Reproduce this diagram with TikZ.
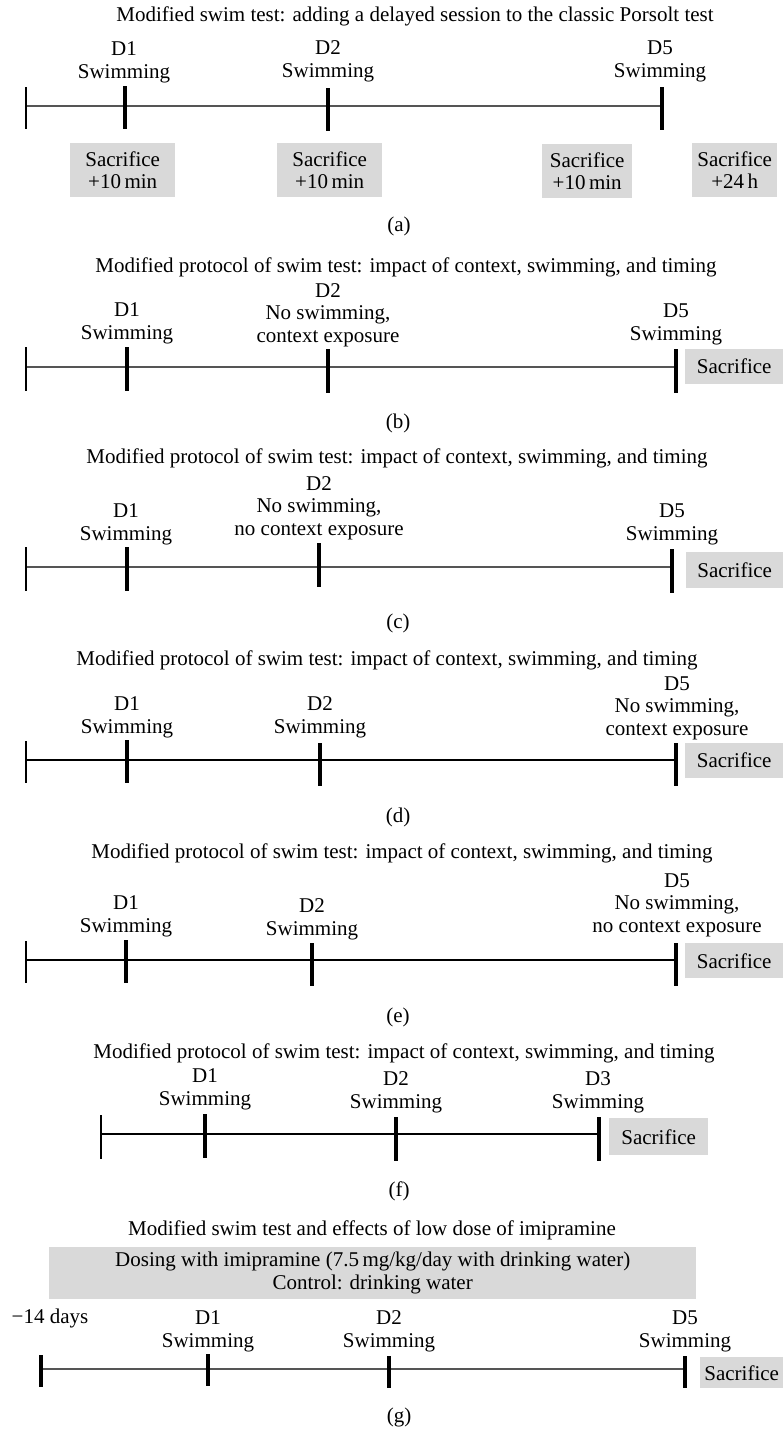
\documentclass[tikz,border=0pt]{standalone}
\usepackage{fontspec}
\setmainfont{Liberation Serif}
\usepackage{tikz}
\usepackage{xcolor}

\definecolor{boxgray}{RGB}{217,217,217}
\definecolor{axisgray}{RGB}{85,85,85}

\tikzset{
  daylabel/.style={align=center, anchor=south, inner sep=0pt},
  paneltitle/.style={anchor=base, inner sep=0pt},
  sacbox/.style={fill=boxgray, align=center, inner sep=0pt, anchor=north west},
  timeline/.style={line width=1.7pt, color=axisgray},
  thinline/.style={line width=1.3pt, color=black},
  daytick/.style={line width=3.6pt},
  starttick/.style={line width=1.4pt}
}

\begin{document}
\begin{tikzpicture}[x=1pt,y=-1pt,font=\fontsize{21}{22.5}\selectfont]
\useasboundingbox (0,0) rectangle (783,1429);

%% (a) delayed session
\pgfmathsetmacro{\yaxis}{106}
\node[paneltitle] (titleA) at (415,22) {Modified swim test: adding a delayed session to the classic Porsolt test};
\coordinate (startA) at (26,\yaxis);
\coordinate (endA) at (662,\yaxis);
\draw[timeline] (startA) -- (endA);
\draw[starttick] (26,\yaxis-19) -- (26,\yaxis+23); % Start
\foreach \x/\dy in {125/0,328/2,662/1}{
  \draw[daytick] (\x,\yaxis-20+\dy) -- (\x,\yaxis+23+\dy); % Day tick
}
\node[daylabel] (dayA1) at (124,83) {D1\\Swimming};
\node[daylabel] (dayA2) at (328,82) {D2\\Swimming};
\node[daylabel] (dayA5) at (660,82) {D5\\Swimming};
\node[sacbox, minimum width=105pt, minimum height=54pt] (sacA1) at (70,143) {Sacrifice\\+10\,min};
\node[sacbox, minimum width=105pt, minimum height=54pt] (sacA2) at (277,143) {Sacrifice\\+10\,min};
\node[sacbox, minimum width=90pt, minimum height=54pt] (sacA3) at (542,144) {Sacrifice\\+10\,min};
\node[sacbox, minimum width=85pt, minimum height=54pt] (sacA4) at (692,143) {Sacrifice\\+24\,h};
\node[paneltitle] (capA) at (399,231) {(a)};

%% (b) context exposure on D2
\pgfmathsetmacro{\yaxis}{367}
\node[paneltitle] (titleB) at (406,272) {Modified protocol of swim test: impact of context, swimming, and timing};
\coordinate (startB) at (26,\yaxis);
\coordinate (endB) at (676,\yaxis);
\draw[timeline] (startB) -- (endB);
\draw[starttick] (26,\yaxis-20) -- (26,\yaxis+24); % Start
\foreach \x/\dy in {127/0,328/2,676/2}{
  \draw[daytick] (\x,\yaxis-20+\dy) -- (\x,\yaxis+24+\dy); % Day tick
}
\node[daylabel] (dayB1) at (127,344) {D1\\Swimming};
\node[daylabel] (dayB2) at (328,347) {D2\\No swimming,\\context exposure};
\node[daylabel] (dayB5) at (676,345) {D5\\Swimming};
\node[sacbox, minimum width=98pt, minimum height=35pt] (sacB) at (685,349) {Sacrifice};
\node[paneltitle] (capB) at (398,428) {(b)};

%% (c) no context exposure on D2
\pgfmathsetmacro{\yaxis}{567}
\node[paneltitle] (titleC) at (397,463) {Modified protocol of swim test: impact of context, swimming, and timing};
\coordinate (startC) at (26,\yaxis);
\coordinate (endC) at (672,\yaxis);
\draw[timeline] (startC) -- (endC);
\draw[starttick] (26,\yaxis-20) -- (26,\yaxis+24); % Start
\foreach \x/\dy in {127/0,319/-4,672/2}{
  \draw[daytick] (\x,\yaxis-20+\dy) -- (\x,\yaxis+24+\dy); % Day tick
}
\node[daylabel] (dayC1) at (126,545) {D1\\Swimming};
\node[daylabel] (dayC2) at (319,540) {D2\\No swimming,\\no context exposure};
\node[daylabel] (dayC5) at (672,545) {D5\\Swimming};
\node[sacbox, minimum width=97pt, minimum height=36pt] (sacC) at (686,552) {Sacrifice};
\node[paneltitle] (capC) at (398,628) {(c)};

%% (d) context exposure on D5
\pgfmathsetmacro{\yaxis}{760}
\node[paneltitle] (titleD) at (387,665) {Modified protocol of swim test: impact of context, swimming, and timing};
\coordinate (startD) at (26,\yaxis);
\coordinate (endD) at (676,\yaxis);
\draw[thinline] (startD) -- (endD);
\draw[starttick] (26,\yaxis-19) -- (26,\yaxis+23); % Start
\foreach \x/\dy in {127/0,320/3,676/3}{
  \draw[daytick] (\x,\yaxis-20+\dy) -- (\x,\yaxis+23+\dy); % Day tick
}
\node[daylabel] (dayD1) at (127,738) {D1\\Swimming};
\node[daylabel] (dayD2) at (320,738) {D2\\Swimming};
\node[daylabel] (dayD5) at (677,740) {D5\\No swimming,\\context exposure};
\node[sacbox, minimum width=98pt, minimum height=35pt] (sacD) at (685,743) {Sacrifice};
\node[paneltitle] (capD) at (398,822) {(d)};

%% (e) no context exposure on D5
\pgfmathsetmacro{\yaxis}{960}
\node[paneltitle] (titleE) at (402,858) {Modified protocol of swim test: impact of context, swimming, and timing};
\coordinate (startE) at (26,\yaxis);
\coordinate (endE) at (676,\yaxis);
\draw[thinline] (startE) -- (endE);
\draw[starttick] (26,\yaxis-19) -- (26,\yaxis+23); % Start
\foreach \x/\dy in {126/0,312/3,676/3}{
  \draw[daytick] (\x,\yaxis-20+\dy) -- (\x,\yaxis+23+\dy); % Day tick
}
\node[daylabel] (dayE1) at (126,937) {D1\\Swimming};
\node[daylabel] (dayE2) at (312,940) {D2\\Swimming};
\node[daylabel] (dayE5) at (677,937) {D5\\No swimming,\\no context exposure};
\node[sacbox, minimum width=98pt, minimum height=35pt] (sacE) at (685,943) {Sacrifice};
\node[paneltitle] (capE) at (398,1022) {(e)};

%% (f) three consecutive days
\pgfmathsetmacro{\yaxis}{1134}
\node[paneltitle] (titleF) at (404,1058) {Modified protocol of swim test: impact of context, swimming, and timing};
\coordinate (startF) at (101,\yaxis);
\coordinate (endF) at (599,\yaxis);
\draw[thinline] (startF) -- (endF);
\draw[starttick] (101,\yaxis-19) -- (101,\yaxis+25); % Start
\foreach \x/\dy in {205/0,396/3,599/3}{
  \draw[daytick] (\x,\yaxis-20+\dy) -- (\x,\yaxis+24+\dy); % Day tick
}
\node[daylabel] (dayF1) at (205,1110) {D1\\Swimming};
\node[daylabel] (dayF2) at (396,1113) {D2\\Swimming};
\node[daylabel] (dayF3) at (598,1113) {D3\\Swimming};
\node[sacbox, minimum width=99pt, minimum height=37pt] (sacF) at (609,1118) {Sacrifice};
\node[paneltitle] (capF) at (399,1196) {(f)};

%% (g) low dose of imipramine
\pgfmathsetmacro{\yaxis}{1369}
\node[paneltitle] (titleG) at (372,1235) {Modified swim test and effects of low dose of imipramine};
\node[sacbox, minimum width=647pt, minimum height=52pt] (dosing) at (49,1247) {Dosing with imipramine (7.5\,mg/kg/day with drinking water)\\Control: drinking water};
\coordinate (startG) at (41,\yaxis);
\coordinate (endG) at (685,\yaxis);
\draw[timeline] (startG) -- (endG);
\foreach \x/\dy in {41/0,208/-1,389/1,685/1}{
  \draw[daytick] (\x,\yaxis-14+\dy) -- (\x,\yaxis+18+\dy); % Day tick
}
\node[paneltitle] (dayG0) at (50,1323) {−14 days};
\node[daylabel] (dayG1) at (208,1352) {D1\\Swimming};
\node[daylabel] (dayG2) at (389,1352) {D2\\Swimming};
\node[daylabel] (dayG5) at (685,1352) {D5\\Swimming};
\node[sacbox, minimum width=83pt, minimum height=31pt] (sacG) at (700,1357) {Sacrifice};
\node[paneltitle] (capG) at (399,1422) {(g)};

\end{tikzpicture}
\end{document}
